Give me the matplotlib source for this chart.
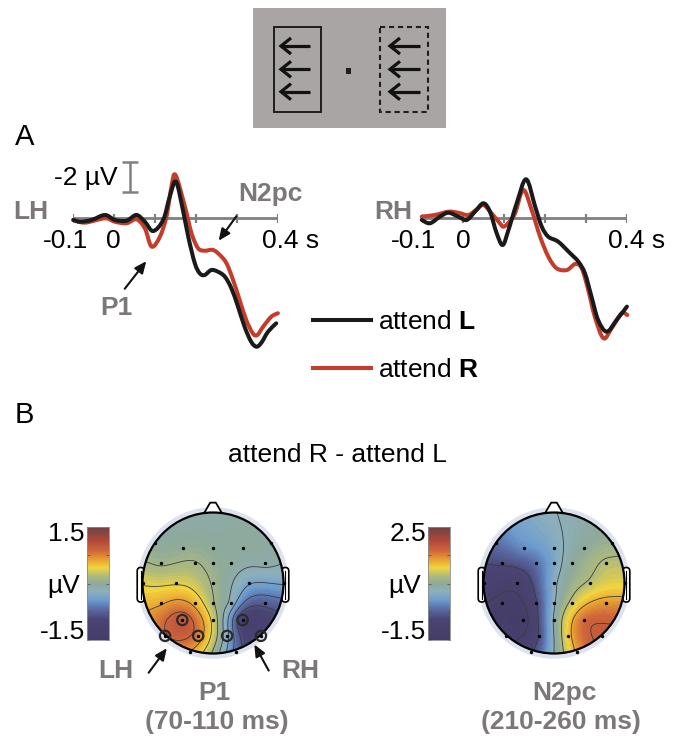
import numpy as np
import matplotlib
matplotlib.use("Agg")
import matplotlib.pyplot as plt
from matplotlib.patches import Rectangle, Circle, Polygon, FancyBboxPatch, FancyArrowPatch, PathPatch
from matplotlib.path import Path
from matplotlib.lines import Line2D
from matplotlib.colors import LinearSegmentedColormap, Normalize
import matplotlib.cm as cm

plt.rcParams['font.family'] = ['Liberation Sans', 'DejaVu Sans']
plt.rcParams['mathtext.fontset'] = 'custom'
plt.rcParams['mathtext.rm'] = 'Liberation Sans'
plt.rcParams['mathtext.bf'] = 'Liberation Sans:bold'

# ---------------- data: ERP waveforms (s, µV; negative plotted up) ----------------
t_lh_attL = [-0.0985, -0.082, -0.054, -0.0216, 0.0027, 0.031, 0.055, 0.0755, 0.0956, 0.12,
             0.136, 0.151, 0.168, 0.181, 0.197, 0.209, 0.221, 0.237, 0.253, 0.270,
             0.286, 0.302, 0.318, 0.334, 0.347, 0.359, 0.375, 0.395]
v_lh_attL = [0.11, 0.23, 0.11, -0.22, 0.11, 0.16, -0.22, 0.23, 0.85, 0.11,
             -1.44, -2.44, -0.55, 1.23, 3.0, 3.67, 3.78, 3.45, 3.56, 3.89,
             4.67, 5.89, 7.23, 8.23, 8.56, 8.29, 7.56, 7.0]
t_lh_attR = [-0.0985, -0.070, -0.0216, 0.0027, 0.031, 0.055, 0.0755, 0.092, 0.112, 0.128,
             0.140, 0.150, 0.173, 0.189, 0.205, 0.221, 0.241, 0.258, 0.274, 0.290,
             0.306, 0.322, 0.338, 0.349, 0.363, 0.383, 0.399]
v_lh_attR = [0.11, 0.29, 0.0, 0.23, 0.33, 0.07, 0.67, 1.89, 1.23, -0.11,
             -2.1, -2.89, -0.77, 1.0, 2.0, 2.16, 2.11, 2.45, 3.0, 4.11,
             5.45, 6.78, 7.67, 7.78, 7.23, 6.56, 6.33]
t_rh_attL = [-0.1, -0.080, -0.0555, -0.035, -0.011, 0.0094, 0.0296, 0.050, 0.066, 0.0824,
             0.097, 0.111, 0.131, 0.154, 0.176, 0.192, 0.208, 0.232, 0.261, 0.281,
             0.297, 0.313, 0.329, 0.350, 0.374, 0.399]
v_rh_attL = [0.11, 0.33, -0.11, -0.37, -0.11, 0.11, -0.44, -1.0, -0.44, 1.0,
             1.78, 0.78, -1.0, -2.6, -0.77, 0.56, 1.23, 1.56, 2.33, 2.89,
             3.67, 5.23, 6.78, 7.56, 6.78, 5.89]
t_rh_attR = [-0.1, -0.068, -0.035, -0.011, 0.0133, 0.034, 0.050, 0.070, 0.090, 0.0985,
             0.110, 0.127, 0.147, 0.1675, 0.188, 0.208, 0.228, 0.253, 0.273, 0.289,
             0.305, 0.321, 0.342, 0.362, 0.386, 0.400]
v_rh_attR = [-0.11, -0.22, -0.44, -0.37, -0.22, -0.6, -0.89, -0.33, 0.33, 0.56,
             0.33, -0.33, -1.89, -0.55, 1.23, 2.56, 3.33, 3.45, 3.05, 3.33,
             4.78, 6.56, 8.0, 7.33, 6.33, 6.45]
time_ticks = [-0.1, 0.0, 0.1, 0.2, 0.3, 0.4]
scale_bar_uv = 2.0
legend_labels = ['attend $\\mathbf{L}$', 'attend $\\mathbf{R}$']

# ---------------- data: topographies ----------------
elec_x = [-0.82, 0.82, -0.43, 0.0, 0.43, -0.74, -0.255, 0.0, 0.25, 0.74,
          -1.0, -0.52, 0.0, 0.51, 1.0, -0.74, -0.255, 0.0, 0.25, 0.74,
          -0.435, 0.0, 0.42, -0.68, -0.21, 0.2, 0.68, -0.32, 0.32]
elec_y = [0.57, 0.57, 0.50, 0.50, 0.50, 0.28, 0.28, 0.28, 0.28, 0.28,
          0.0, 0.0, 0.0, 0.0, 0.0, -0.29, -0.29, -0.29, -0.29, -0.29,
          -0.525, -0.525, -0.525, -0.75, -0.75, -0.75, -0.75, -0.98, -0.98]
p1_vals = [0.0, -0.05, 0.03, 0.0, -0.03, 0.1, 0.14, 0.05, -0.02, -0.08,
           0.35, 0.35, 0.1, -0.35, -0.35, 0.6, 0.55, 0.15, -0.2, -0.8,
           1.0, 0.3, -1.1, 0.85, 0.75, -0.3, -1.1, 0.6, -0.7]
n2pc_vals = [-0.4, 0.6, -0.2, 0.1, 0.5, -0.7, -0.4, 0.05, 0.45, 0.8,
             -1.0, -1.1, 0.15, 0.8, 1.0, -1.35, -0.8, 0.2, 0.85, 1.4,
             -1.4, 0.3, 1.6, -1.3, -0.7, 1.1, 1.8, -0.8, 1.3]
p1_circled = [20, 22, 23, 24, 25, 26]
p1_range = (-1.5, 1.5)
n2pc_range = (-1.5, 2.5)
p1_levels = [-0.875, -0.625, -0.375, -0.125, 0.125, 0.375, 0.625, 0.875]
n2pc_levels = [-1.25, -0.75, 0.25, 0.75, 1.25, 1.75]

# ---------------- figure ----------------
W, H = 673, 744
fig = plt.figure(figsize=(W / 100, H / 100), dpi=100)
GRAY = '#7d7878'
AXGRAY = '#808080'
RED = '#c43d2b'
BLK = '#1a1a1a'

ov = fig.add_axes([0, 0, 1, 1], zorder=10)
ov.set_xlim(0, W)
ov.set_ylim(H, 0)
ov.axis('off')
ov.patch.set_alpha(0)

# stimulus display
ov.add_patch(Rectangle((253, 8), 193, 120, fc='#aaa5a5', ec='none'))
ov.add_patch(Rectangle((274.3, 26.7), 46.7, 85, fill=False, ec='#1e1e1e', lw=1.4))
ov.add_patch(Rectangle((380, 26.7), 48.3, 85, fill=False, ec='#1e1e1e', lw=1.5, ls=(0, (2.5, 1.8))))
ov.add_patch(Rectangle((345.5, 68), 5.5, 5.5, fc='#1e1e1e', ec='none'))
for yy in (46, 69.3, 91.7):
    for (xa, xb) in ((309.5, 281), (419.5, 390)):
        ov.plot([xa, xb], [yy, yy], color='#111111', lw=2.3, solid_capstyle='butt')
        ov.plot([xb + 10, xb, xb + 10], [yy - 8, yy, yy + 8], color='#111111', lw=2.3,
                solid_joinstyle='miter', solid_capstyle='butt')

FS = 19
ov.text(15, 137, 'A', fontsize=21, ha='left', va='center')
ov.text(15, 415, 'B', fontsize=21, ha='left', va='center')


def erp_axes(x0, x1):
    ax = fig.add_axes([x0 / W, 1 - 360 / H, (x1 - x0) / W, 210 / H])
    ax.set_xlim(-0.1, 0.4)
    ax.set_ylim(9.447, -4.553)
    ax.axis('off')
    ax.plot([time_ticks[0], time_ticks[-1]], [0, 0], color=AXGRAY, lw=2.0, solid_capstyle='butt', zorder=1)
    ax.vlines(time_ticks, -0.3, 0.3, color=AXGRAY, lw=1.6, zorder=1)
    return ax


def smooth_trace(ax, t, v, color, z):
    # Catmull-Rom curve through the read points, drawn as Bezier segments
    P = np.c_[t, v]
    n = len(P)
    verts = [P[0]]
    codes = [Path.MOVETO]
    for i in range(n - 1):
        p0 = P[max(i - 1, 0)]
        p1 = P[i]
        p2 = P[i + 1]
        p3 = P[min(i + 2, n - 1)]
        c1 = p1 + (p2 - p0) / 6.0
        c2 = p2 - (p3 - p1) / 6.0
        verts += [c1, c2, p2]
        codes += [Path.CURVE4] * 3
    ax.add_patch(PathPatch(Path(verts, codes), fill=False, ec=color, lw=2.9,
                           joinstyle='round', capstyle='round', zorder=z, clip_on=False))


axL = erp_axes(72.7, 278.3)
axR = erp_axes(421.7, 627.3)
smooth_trace(axL, t_lh_attR, v_lh_attR, RED, 2)
smooth_trace(axL, t_lh_attL, v_lh_attL, BLK, 3)
smooth_trace(axR, t_rh_attR, v_rh_attR, RED, 2)
smooth_trace(axR, t_rh_attL, v_rh_attL, BLK, 3)

# scale bar
sb_t, sb_y0 = 0.039, -1.77
axL.vlines(sb_t, sb_y0, sb_y0 - scale_bar_uv, color=AXGRAY, lw=1.8, clip_on=False)
axL.hlines([sb_y0, sb_y0 - scale_bar_uv], sb_t - 0.02, sb_t + 0.02, color=AXGRAY, lw=1.8, clip_on=False)
ov.text(118, 178, '-2 µV', fontsize=FS, ha='right', va='center')

# tick labels
ov.text(65, 241, '-0.1', fontsize=FS, ha='center', va='center')
ov.text(113, 241, '0', fontsize=FS, ha='center', va='center')
ov.text(262, 241, '0.4 s', fontsize=FS, ha='left', va='center')
ov.text(413, 241, '-0.1', fontsize=FS, ha='center', va='center')
ov.text(463.5, 241, '0', fontsize=FS, ha='center', va='center')
ov.text(608, 241, '0.4 s', fontsize=FS, ha='left', va='center')

ov.text(48, 212, 'LH', fontsize=FS, fontweight='bold', color=GRAY, ha='right', va='center')
ov.text(412, 212, 'RH', fontsize=FS, fontweight='bold', color=GRAY, ha='right', va='center')
ov.text(270, 194, 'N2pc', fontsize=FS, fontweight='bold', color=GRAY, ha='center', va='center')
ov.text(116, 308, 'P1', fontsize=FS, fontweight='bold', color=GRAY, ha='center', va='center')

ap = dict(arrowstyle='-|>,head_length=0.5,head_width=0.22', mutation_scale=14, lw=1.5, color='#111111')
ov.add_patch(FancyArrowPatch((238, 214), (217, 243), **ap))
ov.add_patch(FancyArrowPatch((123, 291), (148, 259), **ap))

# legend
handles = [Line2D([], [], color=BLK, lw=2.9), Line2D([], [], color=RED, lw=2.9)]
axL.legend(handles, legend_labels, loc='center left', bbox_to_anchor=(313 / W, 1 - 346 / H),
           bbox_transform=fig.transFigure, frameon=False, fontsize=FS, handlelength=2.2,
           handletextpad=0.25, borderpad=0, borderaxespad=0, labelspacing=0.9)

ov.text(337, 455, 'attend R - attend L', fontsize=FS, ha='center', va='center')

# ---------------- topographies ----------------
cmap = LinearSegmentedColormap.from_list('topo', [
    (0.00, '#453d68'), (0.18, '#4a4474'), (0.28, '#5b6fa8'), (0.35, '#6b9bd0'),
    (0.43, '#8cb0bc'), (0.50, '#8ea99c'), (0.57, '#b0bb7a'), (0.64, '#f2d53c'),
    (0.71, '#e8a232'), (0.79, '#d0663a'), (0.88, '#b0483a'), (1.00, '#704244')])


def tps(px, py, vals, gx, gy):
    px = np.asarray(px); py = np.asarray(py); vals = np.asarray(vals)
    P = np.c_[px, py]
    n = len(px)
    d = np.sqrt(((P[:, None, :] - P[None, :, :]) ** 2).sum(-1))
    K = np.where(d > 0, d ** 2 * np.log(d + 1e-12), 0.0)
    Pm = np.c_[np.ones(n), px, py]
    A = np.zeros((n + 3, n + 3))
    A[:n, :n] = K; A[:n, n:] = Pm; A[n:, :n] = Pm.T
    w = np.linalg.solve(A, np.r_[vals, np.zeros(3)])
    G = np.c_[gx.ravel(), gy.ravel()]
    dg = np.sqrt(((G[:, None, :] - P[None, :, :]) ** 2).sum(-1))
    Kg = np.where(dg > 0, dg ** 2 * np.log(dg + 1e-12), 0.0)
    z = Kg @ w[:n] + w[n] + w[n + 1] * G[:, 0] + w[n + 2] * G[:, 1]
    return z.reshape(gx.shape)


def topo(cx, cy, vals, vrange, levels, circled):
    R, span = 70.5, 1.25
    ax = fig.add_axes([(cx - R * span) / W, 1 - (cy + R * span) / H, 2 * R * span / W, 2 * R * span / H])
    ax.set_xlim(-span, span); ax.set_ylim(-span, span); ax.axis('off')
    ax.add_patch(Circle((0, 0), 1.075, fc='#dde3ee', ec='none', zorder=0))
    for s in (-1, 1):
        ax.add_patch(FancyBboxPatch((s * 1.025 - 0.05, -0.27), 0.10, 0.49,
                                    boxstyle='round,pad=0,rounding_size=0.05', fc='white', ec='black', lw=1.2, zorder=0.5))
        ax.plot([s * 1.02, s * 1.02], [-0.22, 0.17], color='black', lw=0.8, zorder=0.6)
    ax.add_patch(Polygon([(-0.13, 0.985), (-0.04, 1.14), (0.04, 1.14), (0.13, 0.985)], closed=True,
                         fc='white', ec='black', lw=1.3, joinstyle='round', zorder=0.5))
    g = np.linspace(-1.02, 1.02, 161)
    gx, gy = np.meshgrid(g, g)
    z = tps(elec_x, elec_y, vals, gx, gy)
    clip = Circle((0, 0), 1.0, transform=ax.transData)
    cf = ax.contourf(gx, gy, z, levels=np.linspace(vrange[0], vrange[1], 81), cmap=cmap, extend='both',
                     antialiased=False, zorder=1)
    cf.set_clip_path(clip)
    cl = ax.contour(gx, gy, z, levels=levels, colors='#3c3c3c', linewidths=0.6, linestyles='solid', zorder=2)
    cl.set_clip_path(clip)
    ax.add_patch(Circle((0, 0), 1.0, fill=False, ec='black', lw=1.6, zorder=4))
    ax.scatter(elec_x, elec_y, s=6, c='black', zorder=5, linewidths=0)
    if circled:
        ax.scatter([elec_x[i] for i in circled], [elec_y[i] for i in circled], s=55,
                   facecolors='none', edgecolors='#2a2a2a', linewidths=1.6, zorder=6)
    return ax


def cbar(x0, vrange):
    cax = fig.add_axes([x0 / W, 1 - 640 / H, 22 / W, 113 / H])
    sm = cm.ScalarMappable(norm=Normalize(*vrange), cmap=cmap)
    cb = fig.colorbar(sm, cax=cax)
    cb.set_ticks(np.linspace(vrange[0], vrange[1], 5))
    cb.ax.tick_params(length=2.5, width=0.6, direction='in', left=True, right=True,
                      labelleft=False, labelright=False, color='#555555')
    cb.outline.set_edgecolor('#8a8a8a')
    cb.outline.set_linewidth(0.6)
    return cb


topo(213, 583, p1_vals, p1_range, p1_levels, p1_circled)
topo(554, 583, n2pc_vals, n2pc_range, n2pc_levels, None)
cbar(87, p1_range)
cbar(428, n2pc_range)

ov.text(85, 534, '%.1f' % p1_range[1], fontsize=FS, ha='right', va='center')
ov.text(80, 586, 'µV', fontsize=FS, ha='right', va='center')
ov.text(85, 632, '%.1f' % p1_range[0], fontsize=FS, ha='right', va='center')
ov.text(426, 534, '%.1f' % n2pc_range[1], fontsize=FS, ha='right', va='center')
ov.text(421, 586, 'µV', fontsize=FS, ha='right', va='center')
ov.text(426, 632, '%.1f' % n2pc_range[0], fontsize=FS, ha='right', va='center')

ov.text(116, 671, 'LH', fontsize=FS, fontweight='bold', color=GRAY, ha='center', va='center')
ov.text(300, 671, 'RH', fontsize=FS, fontweight='bold', color=GRAY, ha='center', va='center')
ov.add_patch(FancyArrowPatch((147, 675), (168.5, 646), **ap))
ov.add_patch(FancyArrowPatch((270, 673), (253, 642), **ap))

ov.text(214, 693, 'P1', fontsize=FS, fontweight='bold', color=GRAY, ha='center', va='center')
ov.text(217, 722, '(70-110 ms)', fontsize=FS, fontweight='bold', color=GRAY, ha='center', va='center')
ov.text(564, 693, 'N2pc', fontsize=FS, fontweight='bold', color=GRAY, ha='center', va='center')
ov.text(561, 722, '(210-260 ms)', fontsize=FS, fontweight='bold', color=GRAY, ha='center', va='center')

fig.savefig('out.png', dpi=100)
